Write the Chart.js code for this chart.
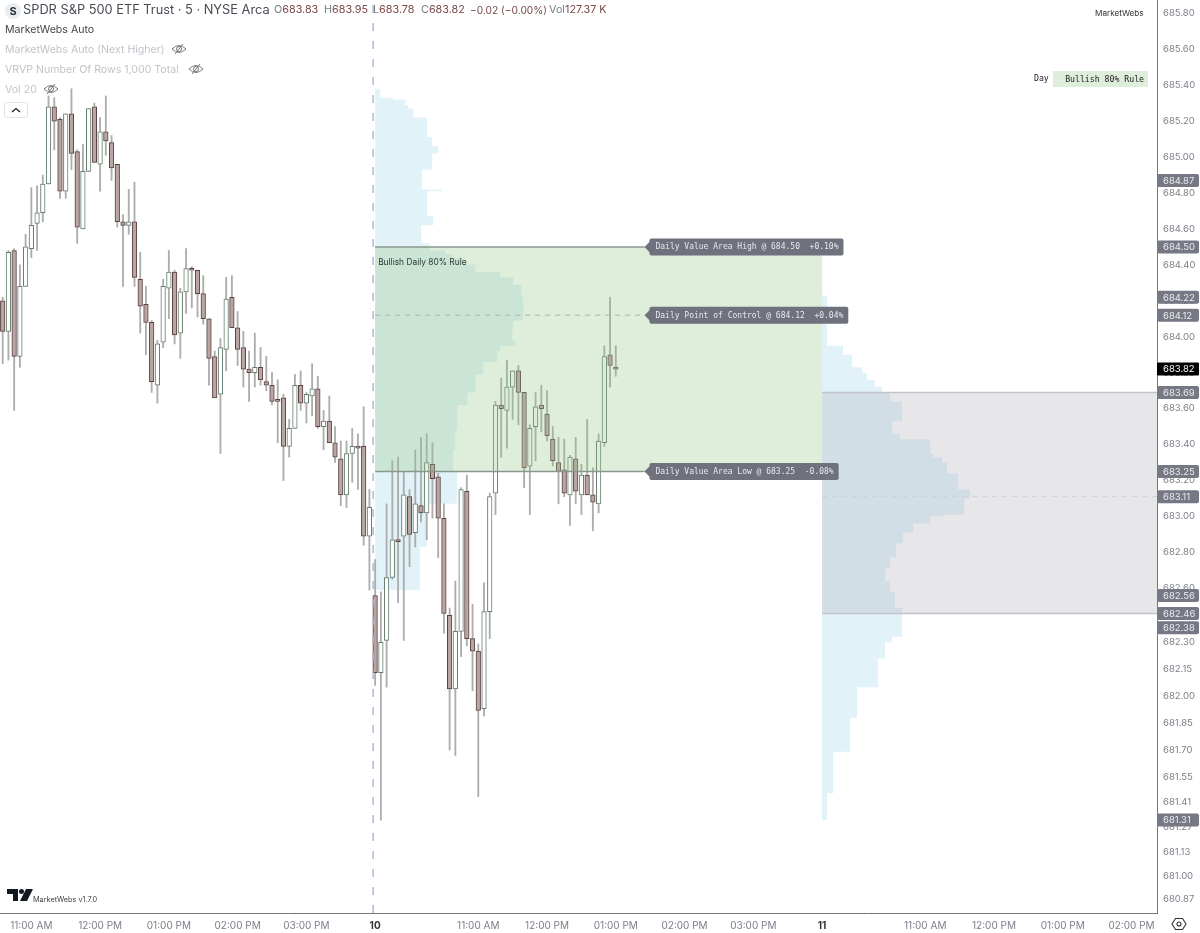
<!DOCTYPE html>
<html>
<head>
<meta charset="utf-8">
<title>SPY 5m</title>
<script src="https://cdn.jsdelivr.net/npm/chart.js"></script>
<style>
  html, body { margin: 0; padding: 0; background: #fff; }
  #wrap { position: relative; width: 1200px; height: 933px; overflow: hidden; font-family: Inter, "Noto Sans", sans-serif; }
  canvas { position: absolute; left: 0; top: 0; }
  .t { position: absolute; white-space: pre; line-height: 1; }
  .leg { font-size: 10.6px; color: #c2c4ca; left: 5px; }
  .ohlc { font-size: 10.8px; color: #7a7d88; top: 5px; }
  .ohlc b { font-weight: 400; color: #7b4a4a; }
  .mono { font-family: "DejaVu Sans Mono", monospace; font-size: 8.2px; color: #222; }
  svg { position: absolute; }
</style>
</head>
<body>
<div id="wrap">
  <canvas id="chart" width="1200" height="933"></canvas>

  <svg style="left:4px;top:2px" width="18" height="18"><circle cx="9" cy="9" r="8" fill="#e9eef3"/><text x="9" y="13" font-size="11" font-weight="700" text-anchor="middle" fill="#2a2e39" font-family="Inter">S</text></svg>
  <div class="t" style="left:23px;top:4px;font-size:12.8px;color:#4a4d57">SPDR S&amp;P 500 ETF Trust · 5 · NYSE Arca</div>
  <div class="t ohlc" style="left:274px">O<b>683.83</b></div>
  <div class="t ohlc" style="left:324px">H<b>683.95</b></div>
  <div class="t ohlc" style="left:373px">L<b>683.78</b></div>
  <div class="t ohlc" style="left:421px">C<b>683.82</b></div>
  <div class="t ohlc" style="left:470px;font-size:10.2px"><b>−0.02 (−0.00%)</b></div>
  <div class="t ohlc" style="left:549px">Vol<b>127.37 K</b></div>

  <div class="t leg" style="top:25px;color:#444">MarketWebs Auto</div>
  <div class="t leg" style="top:45px">MarketWebs Auto (Next Higher)</div>
  <div class="t leg" style="top:65px">VRVP Number Of Rows 1,000 Total</div>
  <div class="t leg" style="top:85px">Vol 20</div>
  <svg style="left:171px;top:42px" width="16" height="14" fill="none" stroke="#777" stroke-width="1"><path d="M1 7 Q8 0 15 7 Q8 14 1 7Z"/><circle cx="8" cy="7" r="2.5"/><path d="M4 12 L12 2"/></svg>
  <svg style="left:188px;top:62px" width="16" height="14" fill="none" stroke="#777" stroke-width="1"><path d="M1 7 Q8 0 15 7 Q8 14 1 7Z"/><circle cx="8" cy="7" r="2.5"/><path d="M4 12 L12 2"/></svg>
  <svg style="left:43px;top:82px" width="16" height="14" fill="none" stroke="#777" stroke-width="1"><path d="M1 7 Q8 0 15 7 Q8 14 1 7Z"/><circle cx="8" cy="7" r="2.5"/><path d="M4 12 L12 2"/></svg>
  <svg style="left:4px;top:102px" width="25" height="17" fill="#fff"><rect x="0.5" y="0.5" width="23" height="15" rx="2" stroke="#e2e3e6"/><path d="M8 10 L12 6.5 L16 10" fill="none" stroke="#222" stroke-width="1.3"/></svg>

  <div class="t" style="left:1095px;top:9px;font-size:8.2px;color:#333">MarketWebs</div>
  <div class="t mono" style="left:1034px;top:74px">Day</div>
  <div class="t mono" style="left:1053px;top:71px;width:91px;height:16px;padding-right:4px;line-height:16px;background:#dfeddb;text-align:right">Bullish 80% Rule</div>

  <svg style="left:7px;top:888px" width="26" height="15" fill="#131722"><path d="M0 1H11V13H6V6H0Z"/><circle cx="14.5" cy="3.5" r="2.5"/><path d="M19 1H26L20 13H13Z"/></svg>
  <div class="t" style="left:33px;top:896px;font-size:7.3px;color:#444">MarketWebs v1.7.0</div>
  <svg style="left:1171px;top:916px" width="16" height="16" fill="none" stroke="#333" stroke-width="1.1"><path d="M4.5 2.5H11.5L15 8L11.5 13.5H4.5L1 8Z"/><circle cx="8" cy="8" r="2"/></svg>
</div>

<script>
// 5 minute candles, Oct 9 (part) and Oct 10 session
const opens = [
  684.20,684.03,684.48,683.89,684.28,684.49,684.63,684.69,684.85,685.28,
  685.21,684.81,685.24,685.03,684.60,684.92,685.28,684.96,685.14,685.08,
  684.96,684.64,684.62,684.64,684.32,684.18,684.08,683.73,683.97,684.27,
  684.36,684.02,684.25,684.38,684.37,684.24,684.10,683.89,683.68,683.93,
  684.22,684.05,683.94,683.82,683.80,683.83,683.75,683.73,683.65,683.66,
  683.39,683.49,683.73,683.63,683.67,683.71,683.50,683.53,683.41,683.32,
  683.12,683.35,683.39,683.39,682.89,682.56,682.13,682.31,682.66,682.87,
  682.89,683.11,682.91,683.06,683.02,683.29,683.22,682.99,682.45,682.04,
  682.36,683.14,682.32,682.25,681.93,682.47,683.13,683.62,683.59,683.72,
  683.81,683.69,683.28,683.50,683.62,683.57,683.43,683.30,683.26,683.12,
  683.32,683.12,683.23,683.12,683.07,683.41,683.90,683.83];
const highs = [
  684.22,684.48,684.49,684.40,684.57,684.83,684.84,684.90,685.34,685.33,
  685.22,685.24,685.38,685.04,685.07,685.27,685.30,685.22,685.34,685.12,
  684.96,684.68,684.82,684.86,684.47,684.28,684.09,683.98,684.32,684.48,
  684.37,684.27,684.49,684.39,684.37,684.34,684.10,683.92,683.99,684.33,
  684.34,684.14,684.03,683.92,684.02,683.94,683.89,683.80,683.76,683.68,
  683.54,683.79,683.81,683.69,683.85,683.78,683.59,683.67,683.50,683.42,
  683.42,683.49,683.46,683.61,683.15,682.76,682.58,683.07,683.31,683.33,
  683.25,683.15,683.37,683.44,683.46,683.41,683.24,683.07,682.49,682.64,
  683.16,683.23,682.51,682.29,682.63,683.13,683.64,683.77,683.87,683.81,
  683.84,683.69,683.51,683.69,683.73,683.70,683.50,683.44,683.43,683.34,
  683.44,683.29,683.54,683.27,683.46,683.95,684.22,683.95];
const lows = [
  683.85,683.87,683.59,683.83,684.28,684.44,684.48,684.64,684.85,685.04,
  684.77,684.77,684.93,684.52,684.60,684.92,684.97,684.81,685.01,684.87,
  684.61,684.28,684.57,684.28,684.02,683.90,683.69,683.63,683.94,684.10,
  683.96,683.88,684.13,684.16,684.11,684.07,683.73,683.66,683.35,683.81,
  684.05,683.84,683.72,683.64,683.72,683.73,683.70,683.62,683.41,683.20,
  683.33,683.49,683.59,683.52,683.56,683.49,683.37,683.41,683.30,683.06,
  683.05,683.19,683.15,682.84,682.59,682.06,681.31,682.05,682.65,682.52,
  682.31,682.72,682.83,682.97,682.87,682.99,682.77,682.35,681.70,681.67,
  682.22,682.28,682.03,681.44,681.89,682.32,683.01,683.33,683.38,683.54,
  683.51,683.16,683.01,683.31,683.47,683.42,683.28,683.07,683.11,682.95,
  683.07,683.01,683.12,682.92,683.02,683.39,683.72,683.78];
const closes = [
  684.03,684.47,683.89,684.28,684.50,684.62,684.69,684.85,685.28,685.20,
  684.81,685.24,685.02,684.61,684.92,685.27,684.97,685.14,685.09,684.94,
  684.64,684.62,684.64,684.33,684.17,684.08,683.75,683.96,684.28,684.36,
  684.01,684.25,684.38,684.37,684.24,684.10,683.88,683.66,683.94,684.21,
  684.05,683.93,683.82,683.80,683.83,683.76,683.73,683.64,683.64,683.39,
  683.49,683.73,683.63,683.68,683.71,683.50,683.53,683.41,683.33,683.12,
  683.35,683.39,683.38,682.89,683.05,682.13,682.30,682.66,682.87,682.86,
  683.12,682.90,683.07,683.02,683.30,683.21,682.99,682.46,682.04,682.36,
  683.15,682.32,682.25,681.92,682.47,683.11,683.62,683.60,683.72,683.81,
  683.69,683.27,683.49,683.61,683.60,683.45,683.31,683.25,683.13,683.33,
  683.14,683.23,683.12,683.08,683.42,683.89,683.84,683.82];

// volume profiles: row edges (price) and relative volume per row
const profile1Edges = [685.38,685.33,685.32,685.29,685.27,685.22,685.11,685.06,685.02,684.93,684.82,684.81,684.67,684.62,684.52,684.48,684.46,684.44,684.40,684.36,684.33,684.29,684.22,684.09,684.04,683.98,683.95,683.92,683.86,683.79,683.69,683.62,683.48,683.37,683.25,683.07,682.83,682.59];
const profile1Vol = [5,18,30,33,38,52,57,63,57,47,67,52,58,46,55,70,78,88,100,125,138,146,148,138,137,140,125,122,108,100,92,82,80,78,82,52,45];
const profile2Edges = [684.23,683.95,683.90,683.83,683.80,683.76,683.72,683.69,683.64,683.53,683.46,683.43,683.35,683.33,683.30,683.24,683.15,683.10,683.01,683.00,682.96,682.91,682.85,682.77,682.71,682.64,682.58,682.49,682.33,682.30,682.21,682.05,681.88,681.69,681.46,681.31];
const profile2Vol = [5,21,30,40,45,53,60,68,80,70,78,108,111,120,125,136,148,142,121,108,91,81,74,68,63,68,73,80,70,63,56,35,28,11,5];

// daily levels
const day1Vah = 684.50, day1Poc = 684.12, day1Val = 683.25;
const day2Vah = 683.69, day2Poc = 683.11, day2Val = 682.46;
const session1 = 65, session2 = 143;
const labelIdx = 112;
const lastPrice = 683.82;

const levelLabels = ["Daily Value Area High @ 684.50  +0.10%", "Daily Point of Control @ 684.12  +0.04%", "Daily Value Area Low @ 683.25  -0.08%"];
const levelPrices = [day1Vah, day1Poc, day1Val];

// axes
const priceTicks = [685.80,685.60,685.40,685.20,685.00,684.80,684.60,684.40,684.20,684.00,683.80,683.60,683.40,683.20,683.00,682.80,682.60,682.45,682.30,682.15,682.00,681.85,681.70,681.55,681.41,681.27,681.13,681.00,680.87];
const priceTags = [684.87,684.50,684.22,684.12,683.69,683.25,683.11,682.56,682.46,682.38,681.31];
const timeTickIdx = [5,17,29,41,53,65,83,95,107,119,131,143,161,173,185,197];
const timeTickLabels = ["11:00 AM","12:00 PM","01:00 PM","02:00 PM","03:00 PM","10","11:00 AM","12:00 PM","01:00 PM","02:00 PM","03:00 PM","11","11:00 AM","12:00 PM","01:00 PM","02:00 PM"];

const xMin = -0.47, xMax = 201.45, yMin = 680.793, yMax = 685.874;
const volPerBar = 5.73;

const candleIdx = opens.map((o, i) => i);
const isUp = i => closes[i] >= opens[i];

function profilePoints(edges, vols, start) {
  const pts = [{ x: start, y: edges[0] }];
  vols.forEach((v, i) => {
    pts.push({ x: start + v / volPerBar, y: edges[i] });
    pts.push({ x: start + v / volPerBar, y: edges[i + 1] });
  });
  pts.push({ x: start, y: edges[edges.length - 1] });
  return pts;
}

function shapeSet(data, color, order) {
  return { type: 'line', data, fill: 'shape', backgroundColor: color, borderWidth: 0, pointRadius: 0, tension: 0, order };
}
function lineSet(data, color, width, dash, order) {
  return { type: 'line', data, fill: false, borderColor: color, borderWidth: width, borderDash: dash, pointRadius: 0, tension: 0, order };
}
function hLine(a, b, price) {
  return [{ x: a, y: price }, { x: b, y: price }];
}
function boxPoints(a, b, top, bottom) {
  return [{ x: a, y: top }, { x: b, y: top }, { x: b, y: bottom }, { x: a, y: bottom }];
}

// price tags on the axis and label flags on the chart
const overlay = {
  id: 'overlay',
  afterDraw(chart) {
    const { ctx, scales: { x, y } } = chart;
    ctx.save();
    ctx.textBaseline = 'middle';

    ctx.font = '8.4px Inter';
    ctx.fillStyle = '#2f3a33';
    ctx.fillText('Bullish Daily 80% Rule', x.getPixelForValue(session1) + 3, y.getPixelForValue(day1Vah) + 16);

    ctx.font = '8px "DejaVu Sans Mono"';
    levelLabels.forEach((text, i) => {
      const py = y.getPixelForValue(levelPrices[i]);
      const px = x.getPixelForValue(labelIdx);
      const w = ctx.measureText(text).width + 11;
      ctx.fillStyle = '#6f717d';
      ctx.beginPath();
      ctx.roundRect(px + 5, py - 8.5, w, 17, 2);
      ctx.fill();
      ctx.beginPath();
      ctx.moveTo(px, py);
      ctx.lineTo(px + 6, py - 6);
      ctx.lineTo(px + 6, py + 6);
      ctx.closePath();
      ctx.fill();
      ctx.fillStyle = '#e8e9ec';
      ctx.fillText(text, px + 11, py + 0.5);
    });

    ctx.font = '9.5px Inter';
    const ax = x.right;
    priceTags.forEach(p => {
      const py = y.getPixelForValue(p);
      ctx.fillStyle = '#767884';
      ctx.beginPath();
      ctx.roundRect(ax, py - 6.5, 42, 13, 2);
      ctx.fill();
      ctx.fillStyle = '#eceded';
      ctx.fillText(p.toFixed(2), ax + 6, py + 0.5);
    });
    const ly = y.getPixelForValue(lastPrice);
    ctx.fillStyle = '#000';
    ctx.beginPath();
    ctx.roundRect(ax, ly - 6.5, 42, 13, 1);
    ctx.fill();
    ctx.fillStyle = '#fff';
    ctx.fillText(lastPrice.toFixed(2), ax + 6, ly + 0.5);
    ctx.restore();
  }
};

new Chart(document.getElementById('chart'), {
  type: 'bar',
  data: {
    datasets: [
      shapeSet(profilePoints(profile1Edges, profile1Vol, session1), '#e1f3f8', 10),
      shapeSet(profilePoints(profile2Edges, profile2Vol, session2), '#e1f3f8', 10),
      {
        label: 'wicks',
        data: candleIdx.map(i => ({ x: i, y: [lows[i], highs[i]] })),
        backgroundColor: '#adadad',
        barThickness: 1.2,
        grouped: false,
        order: 8
      },
      {
        label: 'bodies',
        data: candleIdx.map(i => ({ x: i, y: [opens[i], closes[i]] })),
        backgroundColor: candleIdx.map(i => isUp(i) ? '#fdfefd' : '#b9a5a2'),
        borderColor: candleIdx.map(i => isUp(i) ? '#647d6d' : '#5a4242'),
        borderWidth: 1,
        borderSkipped: false,
        barThickness: 4.6,
        minBarLength: 2,
        grouped: false,
        order: 7
      },
      shapeSet(boxPoints(session1, session2, day1Vah, day1Val), 'rgba(148,195,135,0.3)', 6),
      shapeSet(boxPoints(session2, xMax, day2Vah, day2Val), 'rgba(169,169,180,0.28)', 6),
      lineSet(hLine(session1, labelIdx, day1Vah), '#8b978e', 1.5, [], 5),
      lineSet(hLine(session1, labelIdx, day1Val), '#8b978e', 1.5, [], 5),
      lineSet(hLine(session1, labelIdx, day1Poc), '#a9b5ac', 1, [5, 5], 5),
      lineSet(hLine(session2, xMax, day2Vah), '#c2c4ca', 1.5, [], 5),
      lineSet(hLine(session2, xMax, day2Val), '#c2c4ca', 1.5, [], 5),
      lineSet(hLine(session2, xMax, day2Poc), '#cdd2d6', 1, [5, 5], 5),
      lineSet([{ x: session1 - 0.35, y: yMin }, { x: session1 - 0.35, y: yMax }], '#a3b3da', 1.4, [8, 10], 4)
    ]
  },
  options: {
    responsive: false,
    animation: false,
    layout: { padding: 0 },
    plugins: { legend: { display: false }, tooltip: { enabled: false } },
    events: [],
    scales: {
      x: {
        type: 'linear',
        min: xMin,
        max: xMax,
        offset: false,
        grid: { display: false, drawTicks: false },
        border: { color: '#777', width: 1 },
        afterFit: s => { s.height = 20; s.paddingLeft = 0; s.paddingRight = 0; },
        afterBuildTicks: s => { s.ticks = timeTickIdx.map(v => ({ value: v })); },
        ticks: {
          padding: 7,
          maxRotation: 0,
          autoSkip: false,
          color: c => (c.tick && (c.tick.value === session1 || c.tick.value === session2)) ? '#333' : '#7d7f8a',
          font: c => ({ family: 'Inter', size: 10, weight: (c.tick && (c.tick.value === session1 || c.tick.value === session2)) ? '700' : '400' }),
          callback: v => timeTickLabels[timeTickIdx.indexOf(v)]
        }
      },
      y: {
        position: 'right',
        min: yMin,
        max: yMax,
        grid: { display: false, drawTicks: false },
        border: { color: '#777', width: 1 },
        afterFit: s => { s.width = 43; s.paddingTop = 0; s.paddingBottom = 0; },
        afterBuildTicks: s => { s.ticks = priceTicks.map(v => ({ value: v })); },
        ticks: {
          padding: 6,
          autoSkip: false,
          color: '#7d7f8a',
          font: { family: 'Inter', size: 9.5 },
          callback: v => v.toFixed(2)
        }
      }
    }
  },
  plugins: [overlay]
});
</script>
</body>
</html>
